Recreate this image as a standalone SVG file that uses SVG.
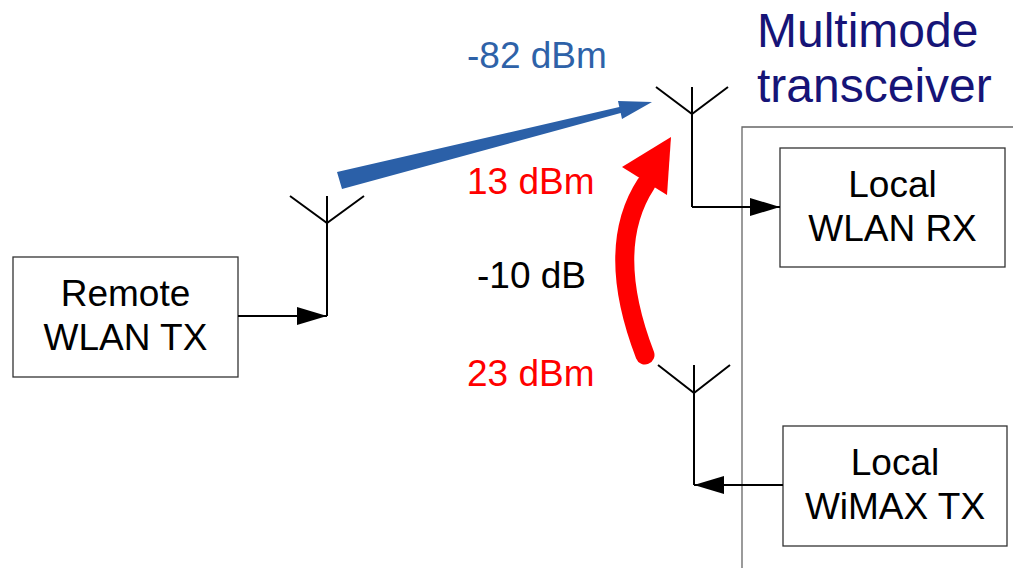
<svg xmlns="http://www.w3.org/2000/svg" width="1013" height="568" viewBox="0 0 1013 568">
<style>
text{font-family:"Liberation Sans",Arial,sans-serif;font-size:37px}
.t{font-size:48px;fill:#161477}
.box{fill:#fff;stroke:#333;stroke-width:1.3}
.w{stroke:#000;stroke-width:2;fill:none}
.c{text-anchor:middle;fill:#000}
</style>
<defs>
<marker id="ah" markerWidth="30" markerHeight="18" refX="30" refY="9" orient="auto" markerUnits="userSpaceOnUse">
<path d="M0,0 L30,9 L0,18 Z" fill="#000"/>
</marker>
</defs>
<rect width="1013" height="568" fill="#fff"/>
<g id="container">
<path d="M742,568 V127 H1013" fill="none" stroke="#666" stroke-width="1.3"/>
<text class="t" x="757" y="47">Multimode</text>
<text class="t" x="757" y="102">transceiver</text>
</g>
<g id="remote-tx">
<rect class="box" x="13" y="257" width="225" height="120"/>
<text class="c" x="125.5" y="306">Remote</text>
<text class="c" x="125.5" y="350">WLAN TX</text>
</g>
<g id="wlan-rx">
<rect class="box" x="780" y="148" width="225" height="119"/>
<text class="c" x="892.5" y="197">Local</text>
<text class="c" x="892.5" y="241">WLAN RX</text>
</g>
<g id="wimax-tx">
<rect class="box" x="783" y="426" width="224" height="120"/>
<text class="c" x="895" y="475">Local</text>
<text class="c" x="895" y="519">WiMAX TX</text>
</g>
<g id="antenna-remote">
<path class="w" d="M327,196 V316 M290,196 L327,223 L364,196"/>
</g>
<g id="antenna-rx">
<path class="w" d="M692,87 V207 M656,87 L692,114 L728,87"/>
</g>
<g id="antenna-wimax">
<path class="w" d="M694,365 V485 M658,365 L694,393 L730,365"/>
</g>
<g id="connectors">
<path class="w" d="M238,316 H327" marker-end="url(#ah)"/>
<path class="w" d="M692,207 H780" marker-end="url(#ah)"/>
<path class="w" d="M783,485 H694" marker-end="url(#ah)"/>
<polygon fill="#2b60a8" points="337,172 619.3,107.1 618,101 652,102 622,119 620.7,112.9 342,189"/>
<path d="M645,355 C620,290 616,230 646,184" fill="none" stroke="#ff0000" stroke-width="19" stroke-linecap="round"/>
<polygon fill="#ff0000" points="622,167 671,137 667,195"/>
</g>
<g id="labels">
<text x="467" y="68" fill="#2e62a8">-82 dBm</text>
<text x="467" y="194" fill="#ff0000">13 dBm</text>
<text x="477" y="288" fill="#000">-10 dB</text>
<text x="467" y="386" fill="#ff0000">23 dBm</text>
</g>
</svg>
